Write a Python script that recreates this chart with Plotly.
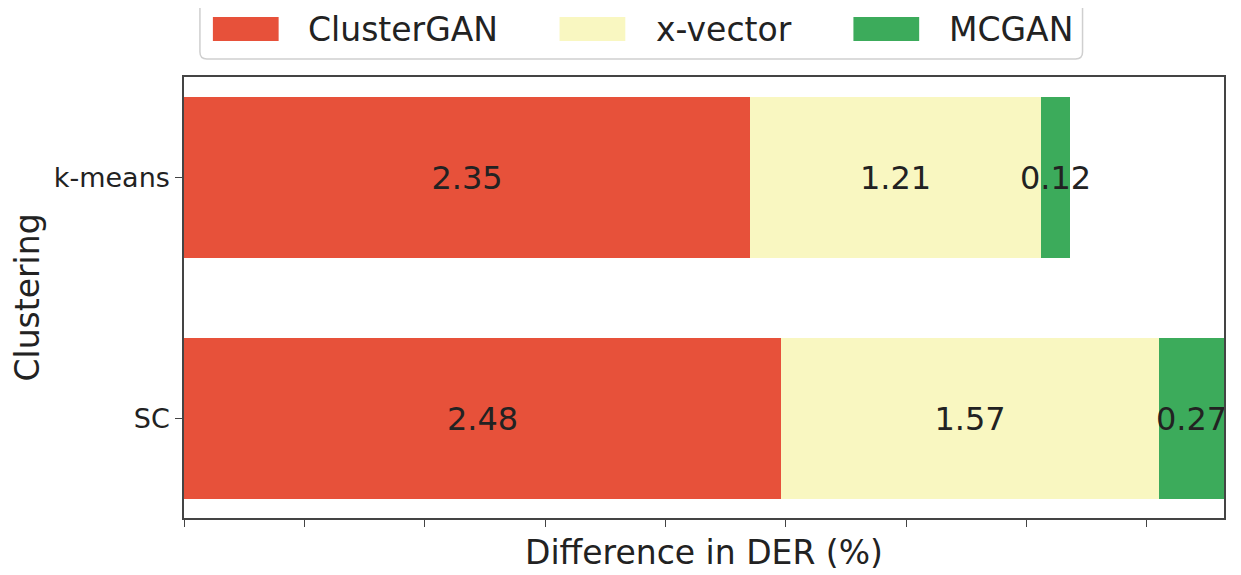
import plotly.graph_objects as go

# ---------------- data ----------------
categories = ["k-means", "SC"]
series_names = ["ClusterGAN", "x-vector", "MCGAN"]
clustergan = [2.35, 2.48]
xvector = [1.21, 1.57]
mcgan = [0.12, 0.27]
x_tick_vals = [0, 0.5, 1.0, 1.5, 2.0, 2.5, 3.0, 3.5, 4.0]
x_title = "Difference in DER (%)"
y_title = "Clustering"

# ---------------- style ----------------
colors = ["#E7513A", "#F9F7C1", "#3CAB5B"]
FONT = "DejaVu Sans"
TXT = "#222222"
W, H = 1241, 575
OFF = 8  # page body margin offset
L, R, T, B = 180, 1224, 77, 518  # plot area in page pixels

def px(x):
    return (x - L) / (R - L)

def py(y):
    return (B - y) / (B - T)

fig = go.Figure()
for name, vals, col in zip(series_names, [clustergan, xvector, mcgan], colors):
    fig.add_trace(go.Bar(
        name=name, y=categories, x=vals, orientation="h",
        marker=dict(color=col, line=dict(width=0)),
        width=0.665,
        text=[f"{v:.2f}" for v in vals],
        textposition="inside", insidetextanchor="middle",
        constraintext="none", textangle=0,
        textfont=dict(family=FONT, size=32, color=TXT),
        showlegend=False,
    ))

# ---------------- custom legend (matplotlib-like) ----------------
shapes = []
annotations = []
lx0, lx1, ly0, ly1, rad = px(196), px(1082), py(59), py(-8), 7
rx = rad / (R - L)
ry = rad / (B - T)
path = (f"M {lx0+rx},{ly0} L {lx1-rx},{ly0} Q {lx1},{ly0} {lx1},{ly0+ry} "
        f"L {lx1},{ly1} L {lx0},{ly1} L {lx0},{ly0+ry} Q {lx0},{ly0} {lx0+rx},{ly0} Z")
shapes.append(dict(type="path", path=path, xref="paper", yref="paper",
                   line=dict(color="#CFCFCF", width=1.5), fillcolor="white", layer="above"))
swatch_x = [209, 557, 852]
text_x = [302, 652, 946]
for name, col, sx, tx in zip(series_names, colors, swatch_x, text_x):
    shapes.append(dict(type="rect", xref="paper", yref="paper",
                       x0=px(sx), x1=px(sx + 66), y0=py(41), y1=py(17),
                       fillcolor=col, line=dict(width=0), layer="above"))
    annotations.append(dict(text=name, xref="paper", yref="paper",
                            x=px(tx), y=py(29), xanchor="left", yanchor="middle",
                            showarrow=False, font=dict(family=FONT, size=33, color=TXT)))

fig.update_layout(
    width=W, height=H,
    margin=dict(l=L - OFF, r=W - (R - OFF), t=T - OFF, b=H - (B - OFF), pad=0),
    paper_bgcolor="white", plot_bgcolor="white",
    barmode="stack", bargap=0,
    font=dict(family=FONT, color=TXT),
    shapes=shapes, annotations=annotations,
    uniformtext=dict(mode=False),
)
fig.update_xaxes(
    range=[0, 4.32], tickvals=x_tick_vals, showticklabels=False,
    ticks="outside", ticklen=7, tickwidth=1.3, tickcolor="#444444",
    showline=True, mirror=True, linecolor="#444444", linewidth=1.5,
    showgrid=False, zeroline=False,
    title=dict(text=x_title, font=dict(family=FONT, size=33, color=TXT), standoff=15),
)
fig.update_yaxes(
    type="category", categoryorder="array", categoryarray=categories,
    range=[1.413, -0.417],
    ticks="outside", ticklen=7, tickwidth=1.3, tickcolor="#444444",
    tickfont=dict(family=FONT, size=27, color=TXT),
    showline=True, mirror=True, linecolor="#444444", linewidth=1.5,
    showgrid=False, zeroline=False,
    title=dict(text=y_title, font=dict(family=FONT, size=33, color=TXT), standoff=11),
)

fig.write_html("out.html")
